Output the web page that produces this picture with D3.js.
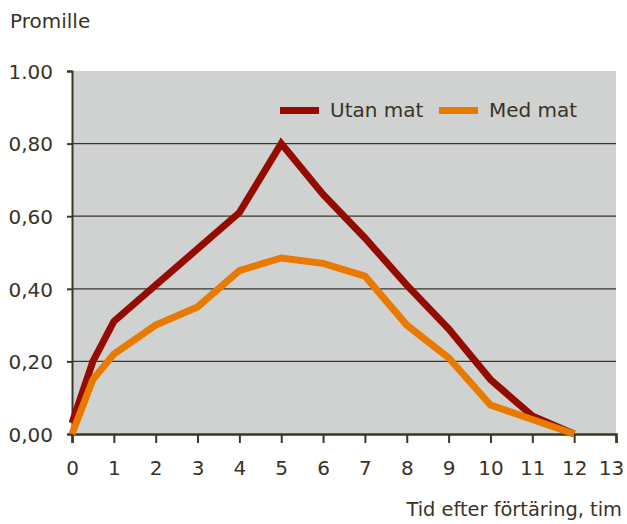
<!DOCTYPE html>
<html><head><meta charset="utf-8">
<script src="https://cdn.jsdelivr.net/npm/d3@7"></script>
<style>body{margin:0;background:#fff}</style>
</head><body>
<svg id="c" width="627" height="524"></svg>
<script>
const hours = [0,0.5,1,2,3,4,5,6,7,8,9,10,11,12];
const utanMat = [0.03,0.20,0.31,0.41,0.51,0.61,0.80,0.66,0.54,0.41,0.29,0.15,0.05,0.00];
const medMat  = [0.00,0.15,0.22,0.30,0.35,0.45,0.485,0.47,0.435,0.30,0.21,0.08,0.04,0.00];
const xTicks = [0,1,2,3,4,5,6,7,8,9,10,11,12,13];
const yTicks = [0,0.2,0.4,0.6,0.8,1.0];
const yLabels = ["0,00","0,20","0,40","0,60","0,80","1.00"];
const seriesNames = ["Utan mat","Med mat"];
const colors = ["#940c00","#e87a00"];

const svg = d3.select("#c");
const font = "'DejaVu Sans', sans-serif";
const fs = 20;
const textCol = "#3a3224";
const axisCol = "#3d3526";
const L=72, R=616, T=71, B=434;
const x = d3.scaleLinear().domain([0,13]).range([L,R]);
const y = d3.scaleLinear().domain([0,1]).range([B,T]);

svg.append("rect").attr("x",L).attr("y",T).attr("width",R-L).attr("height",B-T).attr("fill","#d0d2d1");

// gridlines
svg.append("g").selectAll("line").data(yTicks.filter(d=>d>0&&d<1)).join("line")
  .attr("x1",L).attr("x2",R).attr("y1",d=>y(d)).attr("y2",d=>y(d))
  .attr("stroke",axisCol).attr("stroke-width",1.3);

// y axis
const ya = svg.append("g").attr("transform",`translate(${L},0)`)
  .call(d3.axisLeft(y).tickValues(yTicks).tickFormat((d,i)=>yLabels[i]).tickSize(5).tickPadding(14));
ya.select(".domain").attr("stroke",axisCol).attr("stroke-width",2);
ya.selectAll(".tick line").attr("stroke",axisCol).attr("stroke-width",2);
ya.selectAll("text").attr("font-family",font).attr("font-size",fs).attr("fill",textCol).attr("dy","0.36em");

// x axis
const xa = svg.append("g").attr("transform",`translate(0,${B})`)
  .call(d3.axisBottom(x).tickValues(xTicks).tickFormat(d3.format("d")).tickSize(9).tickPadding(18));
xa.select(".domain").attr("stroke",axisCol).attr("stroke-width",2.5);
xa.selectAll(".tick line").attr("stroke",axisCol).attr("stroke-width",2);
xa.selectAll("text").attr("font-family",font).attr("font-size",fs).attr("fill",textCol)
  .attr("dx",d=>d===13?-5:0);

// lines
const line = d3.line().x((d,i)=>x(hours[i])).y(d=>y(d));
[utanMat, medMat].forEach((s,k)=>{
  svg.append("path").datum(s).attr("d",line).attr("fill","none")
    .attr("stroke",colors[k]).attr("stroke-width",7).attr("stroke-linejoin","miter");
});

// legend
const lg = [{x:280},{x:439}];
lg.forEach((p,k)=>{
  svg.append("line").attr("x1",p.x).attr("x2",p.x+39).attr("y1",110.5).attr("y2",110.5)
    .attr("stroke",colors[k]).attr("stroke-width",7);
  svg.append("text").attr("x",p.x+50).attr("y",117).text(seriesNames[k])
    .attr("font-family",font).attr("font-size",fs).attr("fill",textCol);
});

svg.append("text").attr("x",10).attr("y",28).text("Promille")
  .attr("font-family",font).attr("font-size",fs).attr("fill",textCol);
svg.append("text").attr("x",622).attr("y",516).attr("text-anchor","end").text("Tid efter förtäring, tim")
  .attr("font-family",font).attr("font-size",19.4).attr("fill",textCol);
</script>
</body></html>
